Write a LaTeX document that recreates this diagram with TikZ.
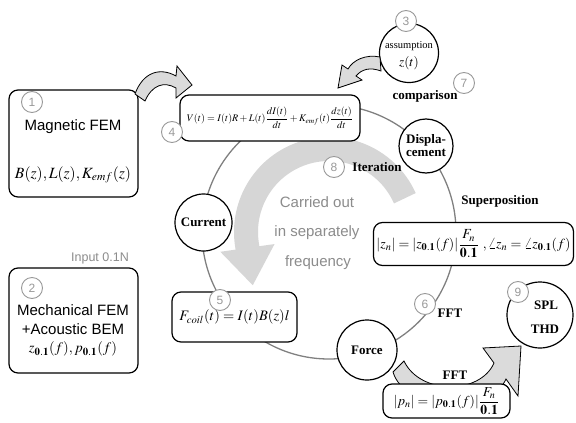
\documentclass[tikz,border=0pt]{standalone}
\usepackage{mathptmx}
\usepackage{fontspec}
\setmainfont{Liberation Serif}
\newfontfamily\sansf{Liberation Sans}
\usepackage{graphicx}
\usetikzlibrary{arrows.meta}
\definecolor{bandgray}{gray}{0.84}
\definecolor{numgray}{gray}{0.6}
\definecolor{txtgray}{gray}{0.55}
\definecolor{ringgray}{gray}{0.5}
\definecolor{arrowfill}{gray}{0.86}
\begin{document}
\begin{tikzpicture}[x=1pt,y=-1pt,
  box/.style={draw=black, line width=1.2pt, rounded corners=9pt, fill=white, inner sep=0pt},
  bigcirc/.style={circle, draw=black, line width=1.2pt, fill=white, inner sep=0pt, minimum size=#1, align=center},
  numc/.style={circle, draw=numgray, line width=0.9pt, fill=white, text=numgray, font=\sansf\fontsize{12}{12}\selectfont, minimum size=21pt, inner sep=0pt},
  lbl/.style={font=\bfseries\fontsize{13}{14}\selectfont, inner sep=0pt, align=center},
  sanslbl/.style={font=\sansf\fontsize{15}{16}\selectfont, inner sep=0pt},
  graytxt/.style={font=\sansf\fontsize{15}{16}\selectfont, text=txtgray, inner sep=0pt},
  fatarrow/.style={fill=arrowfill, draw=black, line width=0.8pt, line join=miter}
]
\useasboundingbox (0,0) rectangle (576,423);
\fill[white] (0,0) rectangle (576,423);

% ring of the iteration cycle
\coordinate (ringc) at (329,232);
\draw[ringgray, line width=1.3pt] (ringc) circle[radius=127];

% big light-gray iteration arrow
\draw[bandgray, line width=24pt, -{Triangle[width=52pt,length=38pt]}]
  ([shift={(-24:83)}]ringc) arc[start angle=-24, end angle=-188, radius=83] -- ++(6,42);

% gray texts inside the ring
\node[graytxt] (t1) at (317,202) {Carried out};
\node[graytxt] (t2) at (317,233) {in separately};
\node[graytxt] (t3) at (318,263) {frequency};

% box 1
\node[box, minimum width=129pt, minimum height=107pt] (b1) at (73.5,143.5) {};
\node[sanslbl] (b1t) at (73,127) {Magnetic FEM};
\node[inner sep=0pt] (b1f) at (73,175) {\resizebox{116pt}{!}{$B(z), L(z), K_{emf}(z)$}};

% box 2
\node[font=\sansf\fontsize{12.5}{13}\selectfont, text=txtgray, inner sep=0pt] (inp) at (100,258) {Input 0.1N};
\node[box, minimum width=129pt, minimum height=105pt] (b2) at (73.5,320.5) {};
\node[sanslbl] (b2a) at (73,310) {Mechanical FEM};
\node[sanslbl] (b2b) at (73,329) {+Acoustic BEM};
\node[inner sep=0pt] (b2f) at (73,349) {\resizebox{88pt}{!}{$z_{\mathbf{0.1}}(f), p_{\mathbf{0.1}}(f)$}};

% box 4
\node[box, minimum width=180pt, minimum height=46pt] (b4) at (270,118)
  {\resizebox{166pt}{!}{$V(t)=I(t)R+L(t)\displaystyle\frac{dI(t)}{dt}+K_{emf}(t)\frac{dz(t)}{dt}$}};

% box 5
\node[box, minimum width=125pt, minimum height=50pt] (b5) at (234.5,317)
  {\resizebox{110pt}{!}{$F_{coil}(t)=I(t)B(z)l$}};

% z_n box
\node[box, minimum width=200pt, minimum height=43pt] (bz) at (473.5,244)
  {\resizebox{194pt}{!}{$|z_n|=|z_{\mathbf{0.1}}(f)|\displaystyle\frac{F_n}{\mathbf{0.1}}\ ,\angle z_n=\angle z_{\mathbf{0.1}}(f)$}};

% circles on the ring
\node[bigcirc=57pt, lbl] (cur) at (203.5,222.5) {Current};
\node[bigcirc=54pt, lbl] (disp) at (426,146) {Displa-\\[-1pt]cement};
\node[bigcirc=60pt, lbl] (force) at (367,350) {Force};

% circle 3
\node[bigcirc=59pt] (c3) at (409,53) {};
\node[font=\fontsize{10.5}{11}\selectfont, inner sep=0pt] (c3a) at (409,46) {assumption};
\node[inner sep=0pt] (c3b) at (409,63) {\resizebox{!}{10pt}{$z(t)$}};

% SPL THD circle
\node[bigcirc=66pt] (c9) at (540,315) {};
\node[lbl] (spl) at (546,305) {SPL};
\node[lbl] (thd) at (545,329) {THD};

% labels
\node[lbl] (cmp) at (425,96) {comparison};
\node[lbl] (itr) at (377,167) {Iteration};
\node[lbl] (sup) at (500,201) {Superposition};
\node[lbl] (fft1) at (450,313) {FFT};

% fat arrow: box 1 -> box 4
\draw[fatarrow] (135,94) .. controls (143,72) and (160,67) .. (176,76) -- (177,66) -- (192,85)
  -- (176,98) -- (176,88) .. controls (164,81) and (152,85) .. (145,101) -- cycle;

% fat arrow: circle 3 -> box 4
\draw[fatarrow] (380,57) .. controls (366,54) and (353,60) .. (348,69) -- (342,65) -- (338,88)
  -- (362,80) -- (356,76) .. controls (362,69) and (370,67) .. (381,71) -- cycle;

% fat arrow: force -> SPL/THD
\draw[fatarrow] (393,372) -- (404,361) .. controls (420,395) and (480,395) .. (494,363) -- (483,348)
  -- (521,346) -- (518,396) -- (506,379) .. controls (490,415) and (405,412) .. (393,372) -- cycle;

% p_n box
\node[lbl] (fft2) at (455,375) {FFT};
\node[box, minimum width=127pt, minimum height=34pt] (bp) at (446.5,401)
  {\resizebox{106pt}{!}{$|p_n|=|p_{\mathbf{0.1}}(f)|\displaystyle\frac{F_n}{\mathbf{0.1}}$}};

% numbered markers
\node[numc] (n1) at (32,102) {1};
\node[numc] (n2) at (32,288) {2};
\node[numc] (n3) at (406,21) {3};
\node[numc] (n4) at (172,132) {4};
\node[numc] (n5) at (220,300) {5};
\node[numc] (n6) at (425,304) {6};
\node[numc] (n7) at (464,83) {7};
\node[numc] (n8) at (334,167) {8};
\node[numc] (n9) at (518,292) {9};
\end{tikzpicture}
\end{document}
